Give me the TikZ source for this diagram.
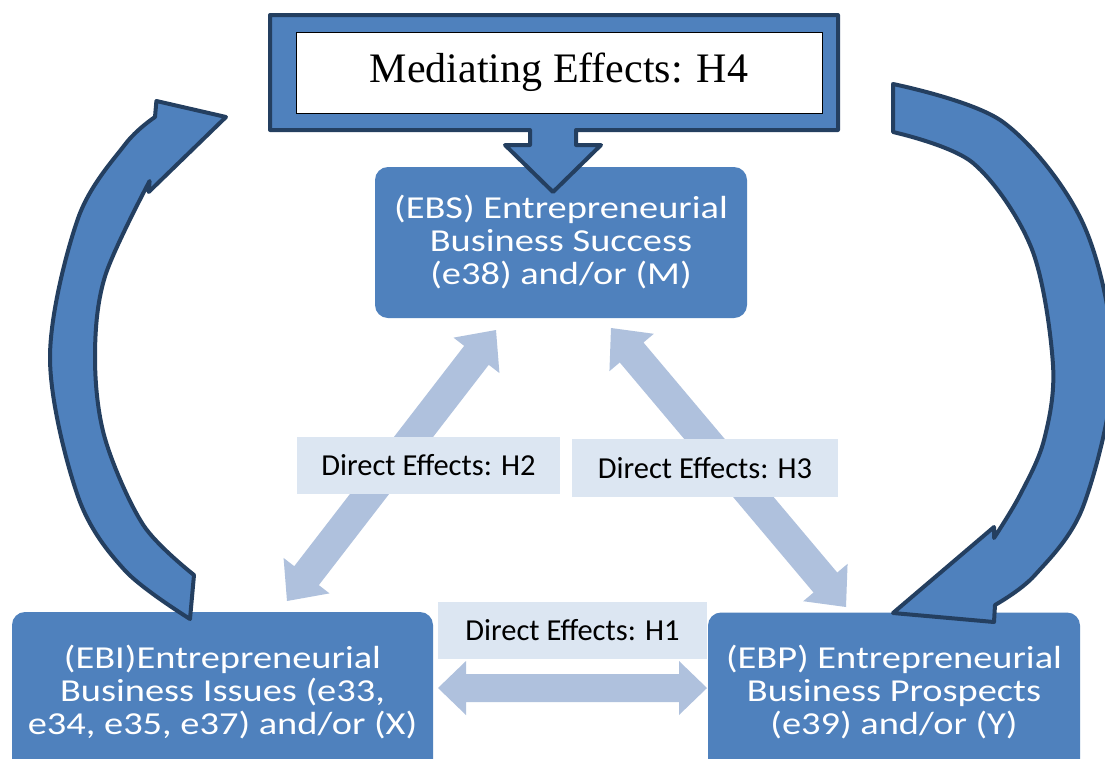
\documentclass[tikz,border=0pt]{standalone}
\usepackage{fontspec}
\setmainfont{Liberation Serif}
\newfontfamily\boxfont[FakeStretch=1.2]{Carlito}
\newfontfamily\labfont{Carlito}
\usetikzlibrary{calc}
\definecolor{mainblue}{HTML}{4F81BD}
\definecolor{navy}{HTML}{243F60}
\definecolor{lightarr}{HTML}{AFC1DD}
\definecolor{labfill}{HTML}{DCE6F2}
\tikzset{
  bluebox/.style={fill=mainblue, rounded corners=13pt, text=white, align=center,
    font=\boxfont\fontsize{32}{33}\selectfont, inner sep=0pt},
  labbox/.style={fill=labfill, text=black, inner sep=0pt,
    font=\labfont\fontsize{30.5}{32}\selectfont},
  bigarrow/.style={fill=mainblue, draw=navy, line width=4pt, line join=round},
  medbox/.style={fill=white, draw=black, line width=1pt, inner sep=0pt,
    font=\fontsize{42}{50}\selectfont},
}
\newcommand{\dblarrow}[5]{%
  \coordinate (#1-p1) at ($(#1)!#3!(#2)$);
  \coordinate (#1-p2) at ($(#2)!#3!(#1)$);
  \fill[lightarr] (#1) -- ($(#1-p1)!#4!90:(#2)$) -- ($(#1-p1)!#5!90:(#2)$)
    -- ($(#1-p2)!#5!-90:(#1)$) -- ($(#1-p2)!#4!-90:(#1)$) -- (#2)
    -- ($(#1-p2)!#4!90:(#1)$) -- ($(#1-p2)!#5!90:(#1)$)
    -- ($(#1-p1)!#5!-90:(#2)$) -- ($(#1-p1)!#4!-90:(#2)$) -- cycle;
}
\begin{document}
\begin{tikzpicture}[x=1pt,y=-1pt]
\useasboundingbox (0,0) rectangle (1105,758);
\fill[white] (0,0) rectangle (1105,758);

% light double arrows
\coordinate (la) at (496,330);
\coordinate (lb) at (287,601);
\coordinate (ra) at (611,328);
\coordinate (rb) at (846,607);
\coordinate (ha) at (438,688);
\coordinate (hb) at (707,688);
\dblarrow{la}{lb}{32pt}{29pt}{15.5pt}
\dblarrow{ra}{rb}{32pt}{29pt}{15.5pt}
\dblarrow{ha}{hb}{28pt}{27pt}{14pt}

% labels
\node[labbox, minimum width=263pt, minimum height=57pt] (h2) at (428.5,465.5) {Direct Effects: H2};
\node[labbox, minimum width=266pt, minimum height=58pt] (h3) at (705,468) {Direct Effects: H3};
\node[labbox, minimum width=269pt, minimum height=57pt] (h1) at (572.5,630.5) {Direct Effects: H1};

% main boxes
\node[bluebox, minimum width=372pt, minimum height=151pt] (ebs) at (561,242.5)
  {(EBS) Entrepreneurial\\Business Success\\(e38) and/or (M)};
\node[bluebox, minimum width=421pt, minimum height=160pt] (ebi) at (222.5,692)
  {(EBI)Entrepreneurial\\Business Issues (e33,\\e34, e35, e37) and/or (X)};
\node[bluebox, minimum width=372pt, minimum height=160pt] (ebp) at (894,692.5)
  {(EBP) Entrepreneurial\\Business Prospects\\(e39) and/or (Y)};

% top callout
\draw[bigarrow] (270,15) -- (838,15) -- (838,130) -- (576,130) -- (576,145)
  -- (601,145) -- (553,192) -- (505,145) -- (530,145) -- (530,130) -- (270,130) -- cycle;
\node[medbox, minimum width=526pt, minimum height=81pt] (med) at (559,72.5) {Mediating Effects: H4};

% left curved arrow
\draw[bigarrow] plot[smooth, tension=0.55] coordinates
  {(190,619) (125,570.5) (78,496.5) (50,357.5) (78,218.5) (125,144.5) (155,117)}
  -- (156.4,101) -- (226,117) -- (148.7,192) -- (149.6,181)
  -- plot[smooth, tension=0.55] coordinates
  {(149.6,181) (105,276.4) (95,357.5) (105,438.6) (143.3,525) (194,575)} -- cycle;

% right curved arrow
\draw[bigarrow] plot[smooth, tension=0.55] coordinates
  {(893,84) (1003,122) (1083.5,224.5) (1113,365) (1083.5,505.5) (1035,575) (995,605)}
  -- (994,622) -- (893,613) -- (994,527) -- (994,538)
  -- plot[smooth, tension=0.55] coordinates
  {(994,538) (1020,495) (1044,440) (1053,365) (1031.6,248.5) (973,163) (893,132)} -- cycle;
\end{tikzpicture}
\end{document}
